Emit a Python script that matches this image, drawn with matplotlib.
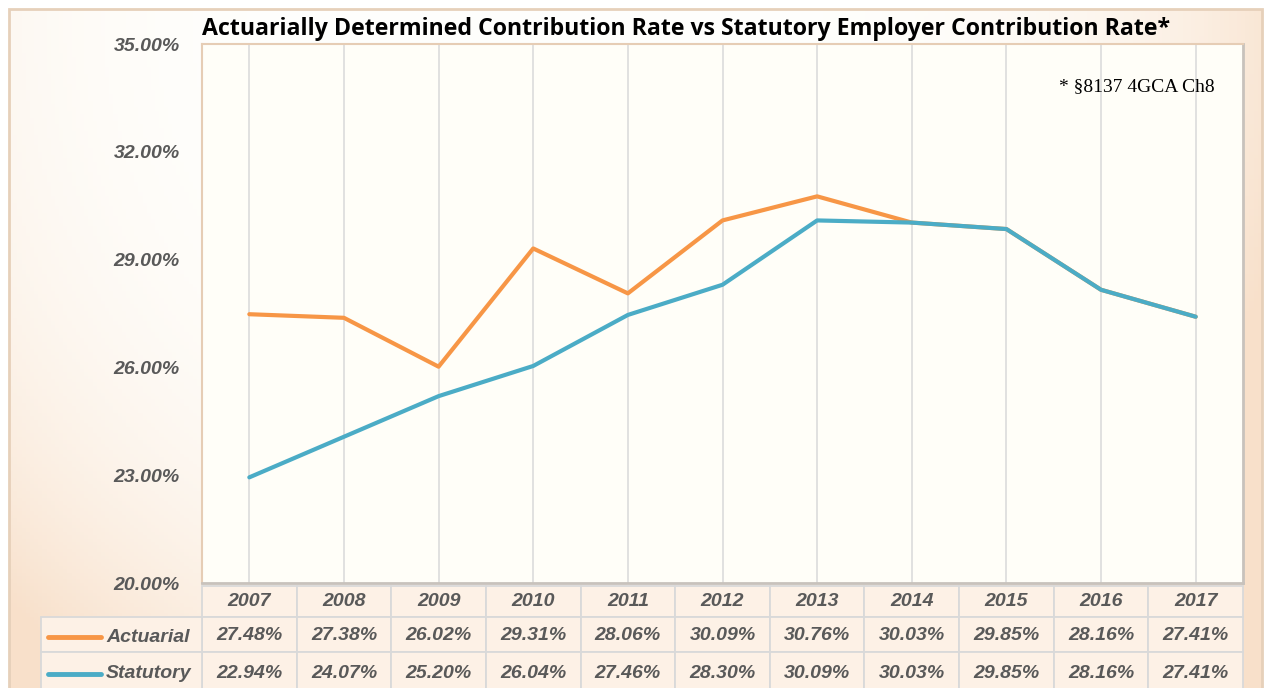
import numpy as np
import matplotlib.pyplot as plt
from matplotlib.patches import Rectangle
from matplotlib.transforms import blended_transform_factory

years = ['2007', '2008', '2009', '2010', '2011', '2012', '2013', '2014', '2015', '2016', '2017']
actuarial = [27.48, 27.38, 26.02, 29.31, 28.06, 30.09, 30.76, 30.03, 29.85, 28.16, 27.41]
statutory = [22.94, 24.07, 25.20, 26.04, 27.46, 28.30, 30.09, 30.03, 29.85, 28.16, 27.41]
series = [('Actuarial', actuarial, '#F79646'), ('Statutory', statutory, '#4BACC6')]

W, H = 1272, 688
fig = plt.figure(figsize=(W / 100, H / 100), dpi=100)
fig.patch.set_facecolor('white')

# background gradient inside outer frame (white at top, peach toward bottom and sides)
bg = fig.add_axes([9 / W, 0, (1262 - 9) / W, (H - 9) / H])
bg.set_axis_off()
yy, xx = np.mgrid[0:1:200j, 0:1:300j]
d = np.sqrt(((xx - 0.42) / 0.62) ** 2 + ((yy - 1.0) / 1.2) ** 2)
d = np.clip(d, 0, 1) ** 4
c0 = np.array([255, 255, 253]) / 255
c1 = np.array([248, 224, 202]) / 255
img = c0 + (c1 - c0) * d[..., None]
bg.imshow(img, extent=[0, 1, 0, 1], aspect='auto', origin='lower')
bg.add_patch(Rectangle((0, -0.2), 1, 1.2, transform=bg.transAxes, fill=False,
                       edgecolor='#E6D0BA', lw=2, clip_on=False))

L, R, T, B = 202, 1243, 44, 583
ax = fig.add_axes([L / W, (H - B) / H, (R - L) / W, (B - T) / H])
ax.set_facecolor('#FFFEF8')
x = np.arange(len(years))
ax.set_xlim(-0.5, len(years) - 0.5)
ax.set_ylim(20, 35)
ax.set_yticks([20, 23, 26, 29, 32, 35])
ax.set_yticklabels([f'{v:.2f}%' for v in [20, 23, 26, 29, 32, 35]])
ax.set_xticks([])
for xi in x:
    ax.axvline(xi, color='#DCDCDC', lw=1.2, zorder=1)
for name, vals, col in series:
    ax.plot(x, vals, color=col, lw=3, zorder=3, solid_capstyle='round')

for s in ['top', 'left']:
    ax.spines[s].set_color('#E6CDB5')
    ax.spines[s].set_linewidth(1.5)
for s in ['right', 'bottom']:
    ax.spines[s].set_color('#C8C2BC')
    ax.spines[s].set_linewidth(2)
ax.tick_params(axis='y', length=0, pad=16)
for lab in ax.get_yticklabels():
    lab.set_fontfamily('Liberation Sans')
    lab.set_fontweight('bold')
    lab.set_fontstyle('italic')
    lab.set_fontsize(14)
    lab.set_color('#595959')

ax.text(0.0, 1.005, 'Actuarially Determined Contribution Rate vs Statutory Employer Contribution Rate*',
        transform=ax.transAxes, ha='left', va='bottom', fontsize=16.7,
        fontweight='bold', family='Open Sans', color='black')
ax.text(0.973, 0.92, '* §8137 4GCA Ch8', transform=ax.transAxes, ha='right', va='center',
        fontsize=14, family='Liberation Serif', color='black')

# data table below the plot
tr = blended_transform_factory(ax.transData, fig.transFigure)
def fy(py):
    return (H - py) / H
rows_y = [586, 617, 652, 700]
xl = -0.5 - (L - 41) / ((R - L) / len(years))
cell_kw = dict(transform=tr, clip_on=False, facecolor='#FDF1E6', edgecolor='#D9D9D9', lw=1.3)
for i in range(len(years)):
    ax.add_patch(Rectangle((i - 0.5, fy(rows_y[1])), 1, fy(rows_y[0]) - fy(rows_y[1]), **cell_kw))
    for r in range(2):
        ax.add_patch(Rectangle((i - 0.5, fy(rows_y[r + 2])), 1,
                               fy(rows_y[r + 1]) - fy(rows_y[r + 2]), **cell_kw))
for r in range(2):
    ax.add_patch(Rectangle((xl, fy(rows_y[r + 2])), -0.5 - xl,
                           fy(rows_y[r + 1]) - fy(rows_y[r + 2]), **cell_kw))

tk = dict(transform=tr, ha='center', va='center', fontsize=14, family='Liberation Sans',
          fontweight='bold', fontstyle='italic', color='#595959', clip_on=False)
for i, yr in enumerate(years):
    ax.text(i, fy(602), yr, **tk)
    ax.text(i, fy(636), f'{actuarial[i]:.2f}%', **tk)
    ax.text(i, fy(673), f'{statutory[i]:.2f}%', **tk)

unit = (R - L) / len(years)
for r, (name, vals, col) in enumerate(series):
    yc = fy([637, 674][r])
    x0 = -0.5 - (L - 48) / unit
    x1 = -0.5 - (L - 101) / unit
    ax.plot([x0, x1], [yc, yc], color=col, lw=3.5, transform=tr, clip_on=False,
            solid_capstyle='round')
    ax.text(-0.5 - (L - 106) / unit, yc, name, **{**tk, 'ha': 'left'})

fig.savefig('out.png', dpi=100, facecolor=fig.get_facecolor())
